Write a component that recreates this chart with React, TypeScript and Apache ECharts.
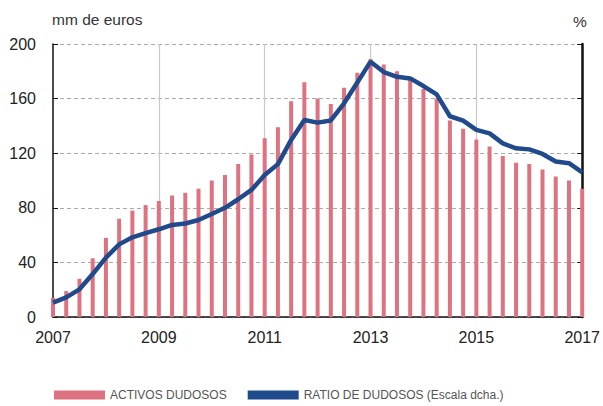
import React, { useEffect, useRef } from "react";
import * as echarts from "echarts";

const quarters = [
  "2007 T1", "2007 T2", "2007 T3", "2007 T4",
  "2008 T1", "2008 T2", "2008 T3", "2008 T4",
  "2009 T1", "2009 T2", "2009 T3", "2009 T4",
  "2010 T1", "2010 T2", "2010 T3", "2010 T4",
  "2011 T1", "2011 T2", "2011 T3", "2011 T4",
  "2012 T1", "2012 T2", "2012 T3", "2012 T4",
  "2013 T1", "2013 T2", "2013 T3", "2013 T4",
  "2014 T1", "2014 T2", "2014 T3", "2014 T4",
  "2015 T1", "2015 T2", "2015 T3", "2015 T4",
  "2016 T1", "2016 T2", "2016 T3", "2016 T4",
  "2017 T1",
];

// mm de euros
const activosDudosos = [
  14, 19, 28, 43, 58, 72, 78, 82, 85, 89,
  91, 94, 100, 104, 112, 119, 131, 139, 158, 172,
  160, 156, 168, 179, 189, 185, 180, 174, 167, 160,
  144, 138, 130, 125, 118, 113, 112, 108, 103, 100,
  94,
];

// %
const ratioDudosos = [
  0.79, 1.08, 1.52, 2.36, 3.26, 3.99, 4.38, 4.61, 4.82, 5.06,
  5.14, 5.33, 5.66, 6.0, 6.47, 6.98, 7.8, 8.4, 9.73, 10.82,
  10.68, 10.8, 11.74, 12.88, 14.03, 13.46, 13.2, 13.11, 12.69, 12.23,
  11.03, 10.79, 10.28, 10.09, 9.54, 9.27, 9.21, 8.96, 8.54, 8.45,
  7.95,
];

const leftTicks = { min: 0, max: 200, interval: 40 };
const rightTicks = { min: 0, max: 15, interval: 3 };

const FONT = "'Liberation Sans', Arial, sans-serif";

export default function App() {
  const ref = useRef<HTMLDivElement>(null);

  useEffect(() => {
    if (!ref.current) return;
    const chart = echarts.init(ref.current, null, { renderer: "svg" });
    const yearTick = (i: number) => i % 8 === 0;
    chart.setOption({
      animation: false,
      backgroundColor: "#ffffff",
      grid: { left: 53, right: 18, top: 44, bottom: 89 },
      graphic: [
        {
          type: "text",
          left: 52,
          top: 11,
          style: { text: "mm de euros", fontSize: 15.5, fill: "#333", fontFamily: FONT },
        },
        {
          type: "text",
          left: 573,
          top: 13,
          style: { text: "%", fontSize: 15.5, fill: "#333", fontFamily: FONT },
        },
      ],
      legend: {
        left: 49,
        top: 384,
        icon: "rect",
        itemWidth: 51,
        itemHeight: 9,
        itemGap: 21,
        textStyle: { fontSize: 12, color: "#555", fontFamily: FONT },
        data: ["ACTIVOS DUDOSOS", "RATIO DE DUDOSOS (Escala dcha.)"],
      },
      xAxis: {
        type: "category",
        data: quarters,
        boundaryGap: false,
        axisLine: { lineStyle: { color: "#111", width: 1.5 } },
        axisTick: { inside: true, length: 5, interval: (i: number) => yearTick(i), lineStyle: { color: "#111" } },
        axisLabel: {
          interval: (i: number) => yearTick(i),
          formatter: (v: string) => v.slice(0, 4),
          fontSize: 16,
          color: "#222",
          fontFamily: FONT,
          margin: 12,
        },
        splitLine: {
          show: true,
          interval: (i: number) => yearTick(i) && i !== 0 && i !== 40,
          lineStyle: { color: "#c8c8c8", width: 1.2 },
        },
      },
      yAxis: [
        {
          type: "value",
          ...leftTicks,
          axisLine: { show: true, lineStyle: { color: "#111", width: 1.5 } },
          axisTick: { show: true, inside: true, length: 5, lineStyle: { color: "#111" } },
          axisLabel: { fontSize: 16, color: "#222", fontFamily: FONT, margin: 17 },
          splitLine: { show: true, lineStyle: { color: "#aaa", type: [4, 3], width: 1 } },
        },
        {
          type: "value",
          ...rightTicks,
          position: "right",
          axisLine: { show: true, lineStyle: { color: "#111", width: 2.5 } },
          axisTick: { show: true, inside: true, length: 5, lineStyle: { color: "#111" } },
          axisLabel: { show: false },
          splitLine: { show: false },
        },
      ],
      series: [
        {
          name: "ACTIVOS DUDOSOS",
          type: "bar",
          data: activosDudosos,
          yAxisIndex: 0,
          barWidth: 4,
          itemStyle: { color: "#dd7280" },
          clip: false,
          z: 2,
        },
        {
          name: "RATIO DE DUDOSOS (Escala dcha.)",
          type: "line",
          data: ratioDudosos,
          yAxisIndex: 1,
          symbol: "none",
          lineStyle: { color: "#1f4a8c", width: 4.5 },
          itemStyle: { color: "#1f4a8c" },
          z: 3,
        },
      ],
    });
    return () => chart.dispose();
  }, []);

  return <div ref={ref} style={{ width: 603, height: 406, position: "absolute", left: 0, top: 0 }} />;
}
